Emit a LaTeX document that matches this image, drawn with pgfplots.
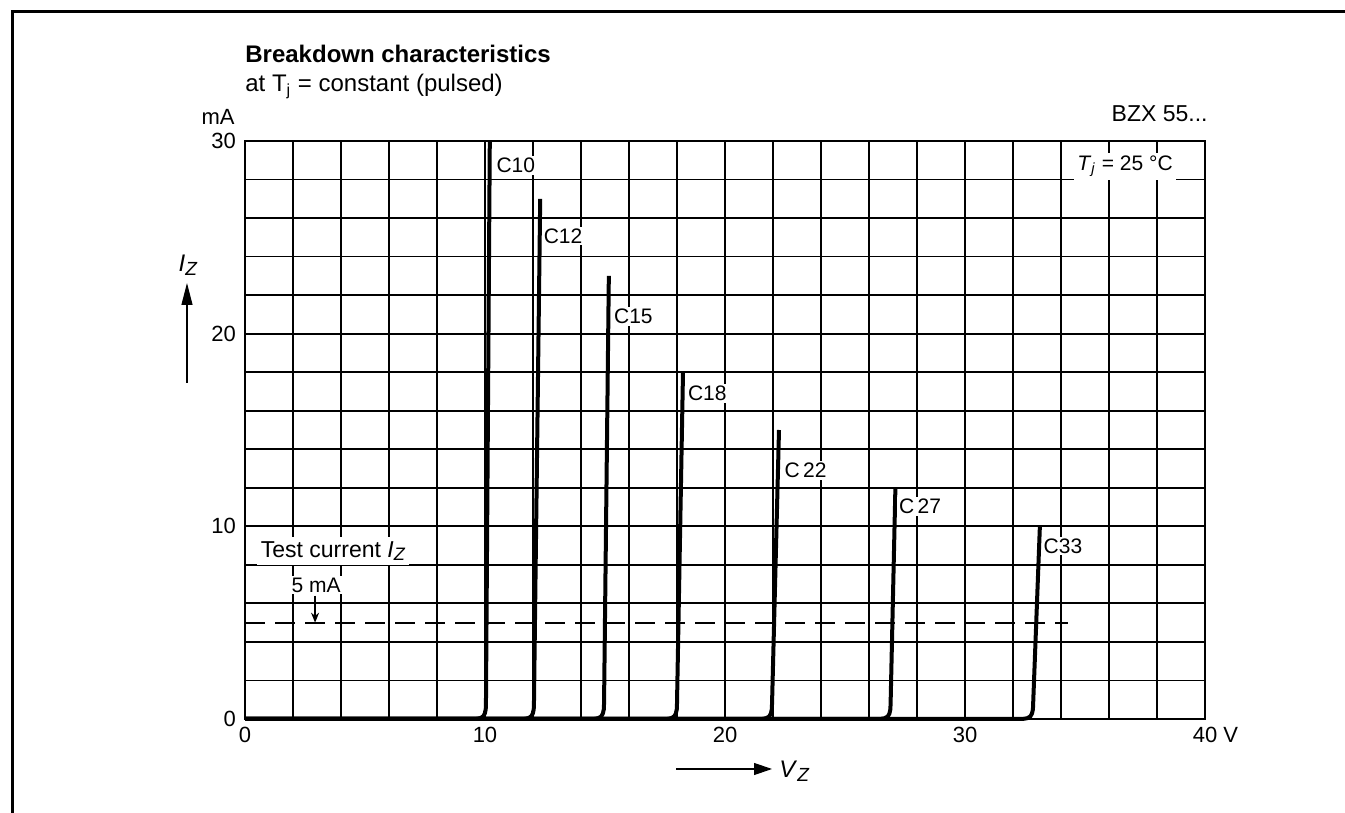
\documentclass[border=0pt]{standalone}
\usepackage{pgfplots}
\pgfplotsset{compat=1.18}
\usepackage{fontspec}
\setmainfont{Liberation Sans}
\usetikzlibrary{arrows.meta}

\begin{document}
\begin{tikzpicture}
\useasboundingbox (-122.5pt,-47pt) rectangle (550pt,359.5pt);
\begin{axis}[
  at={(0pt,0pt)}, anchor=south west,
  scale only axis, width=480pt, height=289pt,
  xmin=0, xmax=40, ymin=0, ymax=30,
  xtick={0,10,20,30,40}, ytick={0,10,20,30},
  xticklabels={0,10,20,30,{40\rlap{\ V}}},
  yticklabels={0,10,20,30},
  minor x tick num=4, minor y tick num=4,
  grid=both,
  major grid style={black, line width=0.9pt},
  minor grid style={black, line width=0.9pt},
  major tick length=0pt, minor tick length=0pt,
  axis line style={black, line width=1.2pt},
  tick label style={font=\fontsize{11}{12}\selectfont},
  /pgf/number format/assume math mode=true,
  xticklabel style={yshift=-0.5pt},
  yticklabel style={xshift=-1pt},
  clip=false,
]
% test current line
\addplot[black, line width=0.9pt, dash pattern=on 10pt off 5pt] coordinates {(0,5) (34.3,5)};
% breakdown curves
\addplot[black, line width=2pt, line join=round] coordinates {(0,0) (9.59,0) (9.79,0.04) (9.92,0.13) (9.99,0.28) (10.03,0.5) (10.04,0.8) (10.2,30)};
\addplot[black, line width=2pt, line join=round] coordinates {(0,0) (11.59,0) (11.79,0.04) (11.92,0.13) (11.99,0.28) (12.03,0.5) (12.04,0.8) (12.3,27)};
\addplot[black, line width=2pt, line join=round] coordinates {(0,0) (14.51,0) (14.71,0.04) (14.84,0.13) (14.91,0.28) (14.95,0.5) (14.96,0.8) (15.16,23)};
\addplot[black, line width=2pt, line join=round] coordinates {(0,0) (17.55,0) (17.75,0.04) (17.88,0.13) (17.95,0.28) (17.99,0.5) (18.0,0.8) (18.25,18)};
\addplot[black, line width=2pt, line join=round] coordinates {(0,0) (21.51,0) (21.71,0.04) (21.84,0.13) (21.91,0.28) (21.95,0.5) (21.96,0.8) (22.25,15)};
\addplot[black, line width=2pt, line join=round] coordinates {(0,0) (26.45,0) (26.65,0.04) (26.78,0.13) (26.85,0.28) (26.89,0.5) (26.9,0.8) (27.1,12)};
\addplot[black, line width=2pt, line join=round] coordinates {(0,0) (32.39,0) (32.59,0.04) (32.72,0.13) (32.79,0.28) (32.83,0.5) (32.84,0.8) (33.12,10)};
% labels
\begin{scope}[every node/.style={anchor=west, fill=white, inner sep=1pt, font=\fontsize{10.5}{12}\selectfont}]
\node at (axis cs:10.38,28.75) {C10};
\node at (axis cs:12.35,25.07) {C12};
\node at (axis cs:15.28,20.9) {C15};
\node at (axis cs:18.36,16.9) {C18};
\node at (axis cs:22.38,12.9) {C\,22};
\node at (axis cs:27.15,11.05) {C\,27};
\node at (axis cs:33.18,8.98) {C33};
\end{scope}
\node[fill=white, inner sep=1.5pt, font=\fontsize{10.5}{12}\selectfont] at (axis cs:36.67,28.7) {\textit{T}\textsubscript{\textit{j}} = 25 °C};
\node[fill=white, inner sep=2pt, font=\fontsize{11.5}{13}\selectfont] at (axis cs:3.67,8.72) {Test current \textit{I}\raisebox{-0.3ex}{\fontsize{9}{10}\selectfont\textit{Z}}};
\node[fill=white, inner sep=1pt, font=\fontsize{10.5}{12}\selectfont] at (axis cs:2.96,6.95) {5 mA};
\draw[-{Stealth[length=5pt,width=4pt]}, line width=0.6pt] (axis cs:2.92,6.4) -- (axis cs:2.92,5.0);
\end{axis}
% titles and outer labels
\node[anchor=base west, inner sep=0, font=\bfseries\fontsize{12}{14}\selectfont] at (0pt,328pt) {Breakdown characteristics};
\node[anchor=base west, inner sep=0, font=\fontsize{12}{14}\selectfont] at (0pt,313.5pt) {at T\textsubscript{j} = constant (pulsed)};
\node[anchor=base east, inner sep=0, font=\fontsize{11}{13}\selectfont] at (-5pt,297pt) {mA};
\node[anchor=base east, inner sep=0, font=\fontsize{11.5}{13}\selectfont] at (481.5pt,298.5pt) {BZX 55...};
% axis arrows
\draw[-{Triangle[length=11pt,width=5.5pt]}, line width=0.6pt] (-29pt,168pt) -- (-29pt,218pt);
\node[font=\fontsize{12}{14}\selectfont] at (-28.5pt,227pt) {\textit{I}\raisebox{-0.35ex}{\fontsize{9.5}{10}\selectfont\textit{Z}}};
\draw[-{Triangle[length=9pt,width=6pt]}, line width=0.6pt] (215.5pt,-25pt) -- (263.5pt,-25pt);
\node[anchor=west, inner sep=1pt, font=\fontsize{12}{14}\selectfont] at (266pt,-26pt) {\textit{V}\raisebox{-0.35ex}{\fontsize{9.5}{10}\selectfont\textit{Z}}};
% page frame
\draw[line width=1.5pt] (-116pt,-47pt) -- (-116pt,353.5pt) -- (550pt,353.5pt);
\end{tikzpicture}
\end{document}
